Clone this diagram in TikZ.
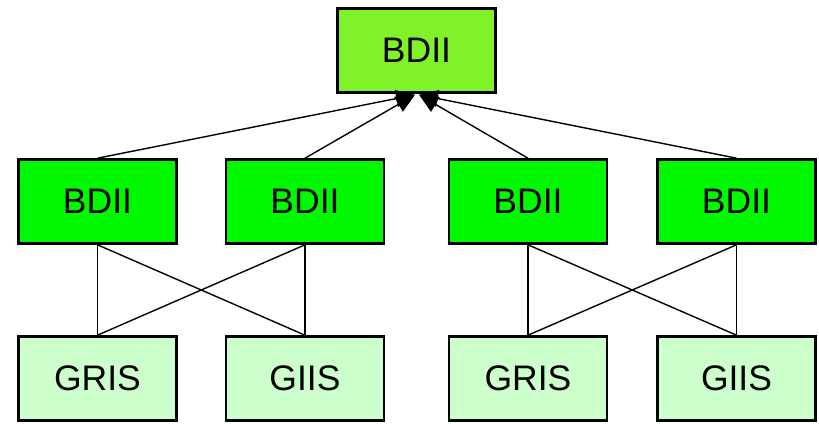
\documentclass[tikz,border=0pt]{standalone}
\usepackage{fontspec}
\setmainfont{Liberation Sans}
\usetikzlibrary{arrows.meta}
\definecolor{topgreen}{HTML}{80F22A}
\definecolor{midgreen}{HTML}{00F800}
\definecolor{lowgreen}{HTML}{CCFFCC}
\tikzset{
  x=1pt, y=1pt,
  box/.style={draw=black, line width=2.6pt, minimum width=158pt, minimum height=84pt,
    inner sep=0pt, font=\fontsize{35.5}{40}\selectfont},
  topbox/.style={box, fill=topgreen},
  midbox/.style={box, fill=midgreen},
  lowbox/.style={box, fill=lowgreen},
  link/.style={line width=1.4pt},
  uplink/.style={link, -{Triangle[length=19pt,width=17pt]}}
}
\begin{document}
\begin{tikzpicture}
\useasboundingbox (0,0) rectangle (819,423);
% top-level index
\node[topbox] (top) at (416.5,372.5) {BDII};
% regional indexes
\node[midbox] (m1) at (97.5,221.5) {BDII};
\node[midbox] (m2) at (305,221.5) {BDII};
\node[midbox] (m3) at (528,221.5) {BDII};
\node[midbox] (m4) at (736.5,221.5) {BDII};
% information sources
\node[lowbox] (g1) at (97.5,44.5) {GRIS};
\node[lowbox] (g2) at (305,44.5) {GIIS};
\node[lowbox] (g3) at (528,44.5) {GRIS};
\node[lowbox] (g4) at (736.5,44.5) {GIIS};
% arrival points under the top box
\coordinate (inL) at ([xshift=-1.5pt,yshift=-1pt]top.south);
\coordinate (inR) at ([xshift=2.5pt,yshift=-1pt]top.south);
\draw[uplink] (m1.north) -- (inL);
\draw[uplink] (m2.north) -- (inL);
\draw[uplink] (m3.north) -- (inR);
\draw[uplink] (m4.north) -- (inR);
% cross links
\draw[link] (m1.south) -- (g1.north);
\draw[link] (m1.south) -- (g2.north);
\draw[link] (m2.south) -- (g1.north);
\draw[link] (m2.south) -- (g2.north);
\draw[link] (m3.south) -- (g3.north);
\draw[link] (m3.south) -- (g4.north);
\draw[link] (m4.south) -- (g3.north);
\draw[link] (m4.south) -- (g4.north);
\end{tikzpicture}
\end{document}
